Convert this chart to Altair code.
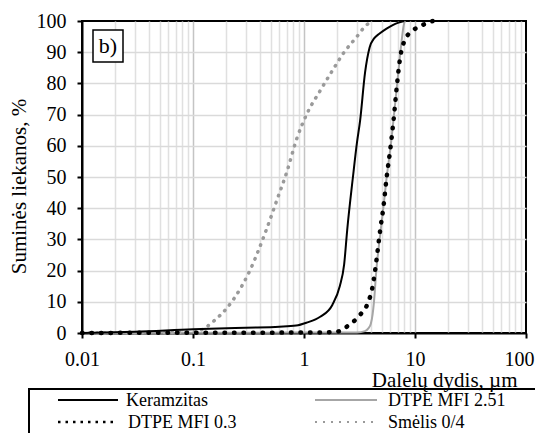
import altair as alt
import pandas as pd

# ---- data ----
series_names = ["Keramzitas", "DTPE MFI 2.51", "DTPE MFI 0.3", "Smėlis 0/4"]

keram_x = [0.01, 0.03, 0.1, 0.3, 0.6, 0.85, 1.05, 1.4, 1.8, 2.1, 2.3, 2.45, 2.76, 3.0,
           3.2, 3.55, 3.9, 4.3, 4.8, 5.5, 6.3, 7.0, 8.0]
keram_y = [0, 0.4, 1.2, 1.7, 2.0, 2.4, 3.3, 5.2, 9, 15, 22, 33, 50, 61,
           68, 83.5, 91.5, 94.5, 96, 97.5, 98.7, 99.4, 100]

mfi251_x = [0.01, 0.1, 0.5, 1.0, 2.0, 3.0, 3.54, 3.8, 4.0, 4.15, 4.27, 4.48, 4.8,
            5.18, 5.56, 6.04, 6.6, 7.1, 7.6, 7.9, 8.1]
mfi251_y = [0, 0.1, 0.1, 0.2, 0.2, 0.2, 0.6, 1.5, 3, 6, 10, 20, 30,
            40, 50, 60, 73, 84, 94, 98.5, 100]

mfi03_x = [0.01, 0.1, 0.5, 1.0, 1.5, 1.9, 2.15, 2.55, 3.2, 3.8, 4.1, 4.37, 4.74, 4.9,
           5.18, 5.56, 6.04, 6.4, 6.9, 7.33, 8.13, 9.6, 11.7, 14.5]
mfi03_y = [0, 0.1, 0.1, 0.2, 0.2, 0.3, 0.8, 2.6, 5.8, 10, 14, 20, 30, 34,
           40, 50, 60, 68, 80, 88, 94, 97, 98.7, 100]

smelis_x = [0.01, 0.05, 0.1, 0.115, 0.13, 0.158, 0.2, 0.239, 0.327, 0.446, 0.583, 0.70,
            0.865, 1.07, 1.39, 1.83, 2.3, 3.0, 3.6, 4.2]
smelis_y = [0, 0.1, 0.3, 0.8, 1.8, 4.2, 7.8, 11.5, 20.2, 32, 43.6, 51.6,
            62.5, 70.5, 77.5, 84.5, 90, 95, 98.5, 100]

x_ticks = [m * 10.0 ** e for e in (-2, -1, 0, 1) for m in range(1, 10)] + [100]
x_ticks = [float(f"{v:.10g}") for v in x_ticks]
x_major = [0.01, 0.1, 1, 10, 100]
y_ticks = list(range(0, 101, 10))

# ---- build table ----
rows = []
for name, xs, ys in [
    (series_names[0], keram_x, keram_y),
    (series_names[1], mfi251_x, mfi251_y),
    (series_names[2], mfi03_x, mfi03_y),
    (series_names[3], smelis_x, smelis_y),
]:
    for i, (xv, yv) in enumerate(zip(xs, ys)):
        rows.append({"series": name, "x": xv, "y": yv, "i": i})
df = pd.DataFrame(rows)

FONT = "Liberation Serif, 'Times New Roman', Times, serif"
major_test = "indexof(%s, datum.value) >= 0" % str(x_major)

x_enc = alt.X(
    "x:Q",
    scale=alt.Scale(type="log", domain=[0.01, 100]),
    axis=alt.Axis(
        values=x_ticks,
        labelExpr=f"{major_test} ? format(datum.value, '~g') : ''",
        labelOverlap=False,
        labelFlush=False,
        labelFont=FONT,
        labelFontSize=20,
        labelColor="black",
        labelPadding=11,
        labelOffset={"condition": {"test": "datum.value >= 100", "value": -7}, "value": 0},
        tickSize=5,
        tickWidth=2,
        tickColor="black",
        tickOpacity={"condition": {"test": major_test, "value": 1}, "value": 0},
        domainColor="black",
        domainWidth=2,
        gridColor={"condition": {"test": major_test, "value": "#c4c4c4"}, "value": "#e0e0e0"},
        gridWidth=1.5,
        gridOpacity={"condition": {"test": "datum.value >= 100 || datum.value <= 0.01", "value": 0}, "value": 1},
        title="Dalelų dydis, µm",
        titleFont=FONT,
        titleFontSize=21,
        titleFontWeight="normal",
        titleColor="black",
        titleAlign="right",
        titleBaseline="alphabetic",
        titleX=435,
        titleY=53,
    ),
)

y_enc = alt.Y(
    "y:Q",
    scale=alt.Scale(domain=[0, 100]),
    axis=alt.Axis(
        values=y_ticks,
        labelFont=FONT,
        labelFontSize=20,
        labelColor="black",
        labelPadding=11,
        tickSize=5,
        tickWidth=2,
        tickColor="black",
        domainColor="black",
        domainWidth=2,
        gridColor="#dadada",
        gridWidth=1.5,
        gridOpacity={"condition": {"test": "datum.value >= 100 || datum.value <= 0", "value": 0}, "value": 1},
        title="Suminės liekanos, %",
        titleFont=FONT,
        titleFontSize=21,
        titleFontWeight="normal",
        titleColor="black",
        titleAlign="center",
        titleBaseline="middle",
        titleX=-63,
        titleY=165,
    ),
)

base = alt.Chart(df).encode(x=x_enc, y=y_enc, order="i:Q")

l_smelis = base.transform_filter(alt.datum.series == series_names[3]).mark_line(
    color="#9a9a9a", strokeWidth=3.5, strokeDash=[0.5, 7], strokeCap="round", interpolate="monotone")
l_251 = base.transform_filter(alt.datum.series == series_names[1]).mark_line(
    color="#a6a6a6", strokeWidth=2, interpolate="monotone")
l_keram = base.transform_filter(alt.datum.series == series_names[0]).mark_line(
    color="black", strokeWidth=2, interpolate="monotone")
l_03 = base.transform_filter(alt.datum.series == series_names[2]).mark_line(
    color="black", strokeWidth=4.5, strokeDash=[0.5, 9], strokeCap="round", interpolate="monotone")

one = pd.DataFrame({"k": [0]})

# "b)" label box
b_box = alt.Chart(one).mark_rect(fill="white", stroke="black", strokeWidth=1.5).encode(
    x=alt.value(11), x2=alt.value(41), y=alt.value(9), y2=alt.value(41))
b_txt = alt.Chart(one).mark_text(text="b)", font=FONT, fontSize=22, color="black",
                                 align="center", baseline="middle").encode(
    x=alt.value(26), y=alt.value(25))

# legend box and entries
leg_box = alt.Chart(one).mark_rect(filled=False, stroke="black", strokeWidth=2).encode(
    x=alt.value(-53), x2=alt.value(470), y=alt.value(368), y2=alt.value(440))

def leg_line(x1, x2, y, **style):
    return alt.Chart(one).mark_rule(**style).encode(
        x=alt.value(x1), x2=alt.value(x2), y=alt.value(y))

def leg_text(x, y, label):
    return alt.Chart(one).mark_text(text=label, font=FONT, fontSize=18, color="black",
                                    align="left", baseline="alphabetic").encode(
        x=alt.value(x), y=alt.value(y))

legend_layers = [
    leg_box,
    leg_line(-24, 36, 379, color="black", strokeWidth=2),
    leg_text(44, 385, series_names[0]),
    leg_line(-24, 36, 401, color="black", strokeWidth=2.5, strokeDash=[2.5, 5]),
    leg_text(46, 407, series_names[2]),
    leg_line(233, 295, 379, color="#a6a6a6", strokeWidth=2),
    leg_text(306, 385, series_names[1]),
    leg_line(233, 295, 401, color="#9a9a9a", strokeWidth=2, strokeDash=[2, 6]),
    leg_text(306, 407, series_names[3]),
]

chart = alt.layer(l_smelis, l_251, l_keram, l_03, b_box, b_txt, *legend_layers).properties(
    width=444,
    height=312,
    autosize="none",
    padding={"left": 74, "top": 13, "right": 9, "bottom": 100},
    background="white",
).configure_view(stroke="black", strokeWidth=2)

chart.save("out.html", embed_options={"renderer": "svg", "actions": False})
